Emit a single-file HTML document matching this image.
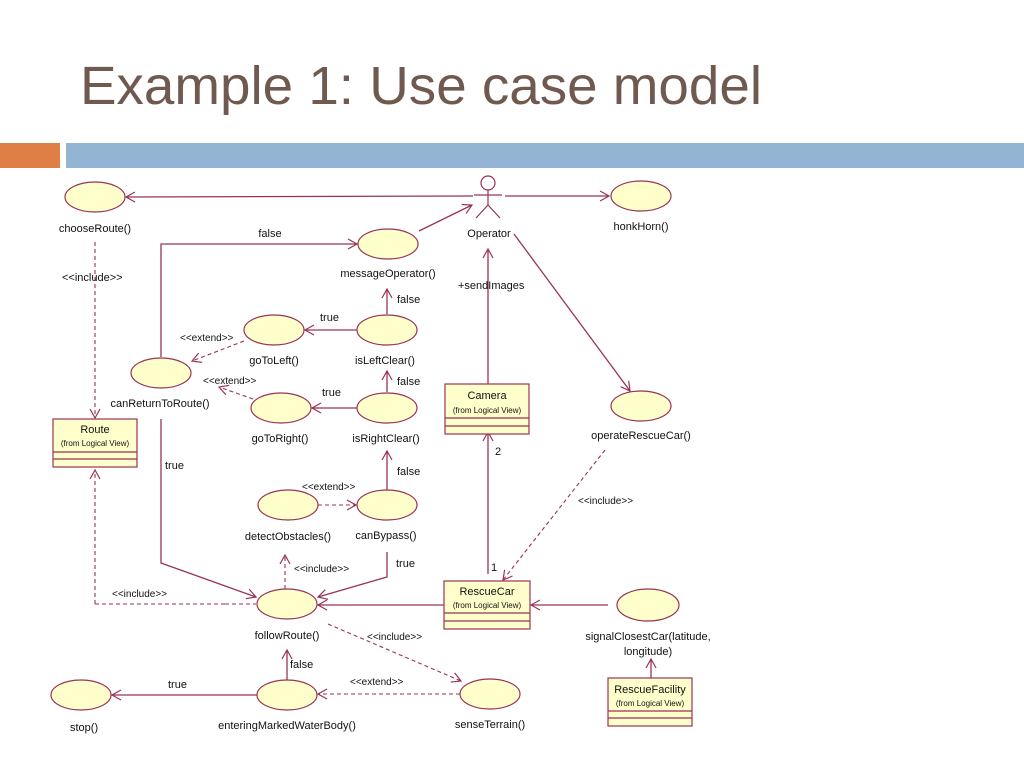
<!DOCTYPE html>
<html><head><meta charset="utf-8"><style>
html,body{margin:0;padding:0;background:#fff;width:1024px;height:768px;overflow:hidden}
svg{display:block}
text{font-family:"Liberation Sans",sans-serif}
</style></head><body>
<svg width="1024" height="768" viewBox="0 0 1024 768" xmlns="http://www.w3.org/2000/svg">
<defs>
<marker id="a" markerWidth="12" markerHeight="12" refX="10" refY="6" orient="auto" markerUnits="userSpaceOnUse">
<path d="M1,1 L10,6 L1,11" fill="none" stroke="#993355" stroke-width="1.2"/></marker>
</defs>
<text x="80" y="104" font-size="54" fill="#705a50" textLength="682" lengthAdjust="spacingAndGlyphs">Example 1: Use case model</text>
<rect x="0" y="143" width="60" height="25" fill="#df7f45"/>
<rect x="66" y="143" width="958" height="25" fill="#93b5d3"/>

<g stroke="#993355" stroke-width="1.3" fill="none">
<!-- solid -->
<line x1="473" y1="196" x2="126" y2="197" marker-end="url(#a)"/>
<line x1="505" y1="196" x2="609" y2="196" marker-end="url(#a)"/>
<line x1="419" y1="231" x2="472" y2="205" marker-end="url(#a)"/>
<polyline points="161,357 161,244 357,244" marker-end="url(#a)"/>
<line x1="387" y1="314" x2="387" y2="289" marker-end="url(#a)"/>
<line x1="357" y1="330" x2="305" y2="330" marker-end="url(#a)"/>
<line x1="387" y1="392" x2="387" y2="371" marker-end="url(#a)"/>
<line x1="357" y1="408" x2="312" y2="408" marker-end="url(#a)"/>
<line x1="387" y1="490" x2="387" y2="451" marker-end="url(#a)"/>
<polyline points="161,419 161,563 256,597" marker-end="url(#a)"/>
<polyline points="387,552 387,577 318,597" marker-end="url(#a)"/>
<line x1="488" y1="384" x2="488" y2="249" marker-end="url(#a)"/>
<line x1="514" y1="234" x2="630" y2="391" marker-end="url(#a)"/>
<line x1="488" y1="574" x2="488" y2="432" marker-end="url(#a)"/>
<line x1="444" y1="605" x2="318" y2="605" marker-end="url(#a)"/>
<line x1="608" y1="605" x2="531" y2="605" marker-end="url(#a)"/>
<line x1="651" y1="678" x2="651" y2="659" marker-end="url(#a)"/>
<line x1="287" y1="680" x2="287" y2="650" marker-end="url(#a)"/>
<line x1="257" y1="695" x2="112" y2="695" marker-end="url(#a)"/>
</g>
<g stroke="#993355" stroke-width="1.1" fill="none" stroke-dasharray="4,3">
<line x1="95" y1="242" x2="95" y2="418" marker-end="url(#a)"/>
<line x1="244" y1="341" x2="192" y2="361" marker-end="url(#a)"/>
<line x1="253" y1="399" x2="219" y2="387" marker-end="url(#a)"/>
<line x1="318" y1="505" x2="356" y2="505" marker-end="url(#a)"/>
<line x1="225" y1="604" x2="95" y2="604" />
<line x1="95" y1="604" x2="95" y2="470" marker-end="url(#a)"/>
<line x1="225" y1="604" x2="256" y2="604"/>
<line x1="285" y1="589" x2="285" y2="555" marker-end="url(#a)"/>
<line x1="328" y1="624" x2="461" y2="681" marker-end="url(#a)"/>
<line x1="460" y1="694" x2="318" y2="694" marker-end="url(#a)"/>
<line x1="605" y1="450" x2="503" y2="580" marker-end="url(#a)"/>
</g>

<g fill="#ffffcc" stroke="#993355" stroke-width="1.2">
<ellipse cx="95" cy="197" rx="30" ry="15"/>
<ellipse cx="641" cy="196" rx="30" ry="15"/>
<ellipse cx="388" cy="244" rx="30" ry="15"/>
<ellipse cx="387" cy="330" rx="30" ry="15"/>
<ellipse cx="274" cy="330" rx="30" ry="15"/>
<ellipse cx="161" cy="373" rx="30" ry="15"/>
<ellipse cx="281" cy="408" rx="30" ry="15"/>
<ellipse cx="387" cy="408" rx="30" ry="15"/>
<ellipse cx="288" cy="505" rx="30" ry="15"/>
<ellipse cx="387" cy="505" rx="30" ry="15"/>
<ellipse cx="287" cy="604" rx="30" ry="15"/>
<ellipse cx="641" cy="406" rx="30" ry="15"/>
<ellipse cx="648" cy="605" rx="31" ry="16"/>
<ellipse cx="81" cy="695" rx="30" ry="15"/>
<ellipse cx="287" cy="695" rx="30" ry="15"/>
<ellipse cx="490" cy="694" rx="30" ry="15"/>
<rect x="53" y="419" width="84" height="48"/>
<rect x="445" y="384" width="84" height="50"/>
<rect x="444" y="581" width="86" height="48"/>
<rect x="608" y="678" width="84" height="48"/>
</g>
<g stroke="#993355" stroke-width="1.2">
<line x1="53" y1="452" x2="137" y2="452"/><line x1="53" y1="459" x2="137" y2="459"/>
<line x1="445" y1="418" x2="529" y2="418"/><line x1="445" y1="426" x2="529" y2="426"/>
<line x1="444" y1="613" x2="530" y2="613"/><line x1="444" y1="621" x2="530" y2="621"/>
<line x1="608" y1="711" x2="692" y2="711"/><line x1="608" y1="718" x2="692" y2="718"/>
</g>
<g stroke="#993355" stroke-width="1.2" fill="none">
<circle cx="488" cy="183" r="7" fill="#fff"/>
<line x1="488" y1="190" x2="488" y2="205"/>
<line x1="474" y1="195" x2="502" y2="195"/>
<line x1="488" y1="205" x2="476" y2="218"/>
<line x1="488" y1="205" x2="500" y2="218"/>
</g>

<g font-size="11" fill="#111">
<text x="95" y="232" text-anchor="middle">chooseRoute()</text>
<text x="641" y="230" text-anchor="middle">honkHorn()</text>
<text x="489" y="237" text-anchor="middle">Operator</text>
<text x="270" y="237" text-anchor="middle">false</text>
<text x="388" y="277" text-anchor="middle">messageOperator()</text>
<text x="62" y="281">&lt;&lt;include&gt;&gt;</text>
<text x="458" y="289">+sendImages</text>
<text x="397" y="303">false</text>
<text x="320" y="321">true</text>
<text x="180" y="341" font-size="10">&lt;&lt;extend&gt;&gt;</text>
<text x="274" y="364" text-anchor="middle">goToLeft()</text>
<text x="385" y="364" text-anchor="middle">isLeftClear()</text>
<text x="203" y="384" font-size="10">&lt;&lt;extend&gt;&gt;</text>
<text x="397" y="385">false</text>
<text x="322" y="396">true</text>
<text x="160" y="407" text-anchor="middle">canReturnToRoute()</text>
<text x="280" y="442" text-anchor="middle">goToRight()</text>
<text x="386" y="442" text-anchor="middle">isRightClear()</text>
<text x="641" y="439" text-anchor="middle">operateRescueCar()</text>
<text x="495" y="455">2</text>
<text x="165" y="469">true</text>
<text x="397" y="475">false</text>
<text x="302" y="490" font-size="10">&lt;&lt;extend&gt;&gt;</text>
<text x="578" y="504" font-size="10">&lt;&lt;include&gt;&gt;</text>
<text x="288" y="540" text-anchor="middle">detectObstacles()</text>
<text x="386" y="539" text-anchor="middle">canBypass()</text>
<text x="396" y="567">true</text>
<text x="294" y="572" font-size="10">&lt;&lt;include&gt;&gt;</text>
<text x="491" y="571">1</text>
<text x="112" y="597" font-size="10">&lt;&lt;include&gt;&gt;</text>
<text x="287" y="639" text-anchor="middle">followRoute()</text>
<text x="367" y="640" font-size="10">&lt;&lt;include&gt;&gt;</text>
<text x="648" y="640" text-anchor="middle">signalClosestCar(latitude,</text>
<text x="648" y="655" text-anchor="middle">longitude)</text>
<text x="290" y="668">false</text>
<text x="168" y="688">true</text>
<text x="350" y="685" font-size="10">&lt;&lt;extend&gt;&gt;</text>
<text x="70" y="731">stop()</text>
<text x="287" y="729" text-anchor="middle">enteringMarkedWaterBody()</text>
<text x="490" y="728" text-anchor="middle">senseTerrain()</text>
<text x="95" y="433" text-anchor="middle">Route</text>
<text x="95" y="446" text-anchor="middle" font-size="8">(from Logical View)</text>
<text x="487" y="399" text-anchor="middle">Camera</text>
<text x="487" y="413" text-anchor="middle" font-size="8">(from Logical View)</text>
<text x="487" y="595" text-anchor="middle">RescueCar</text>
<text x="487" y="608" text-anchor="middle" font-size="8">(from Logical View)</text>
<text x="650" y="693" text-anchor="middle">RescueFacility</text>
<text x="650" y="706" text-anchor="middle" font-size="8">(from Logical View)</text>
</g>
</svg>
</body></html>
